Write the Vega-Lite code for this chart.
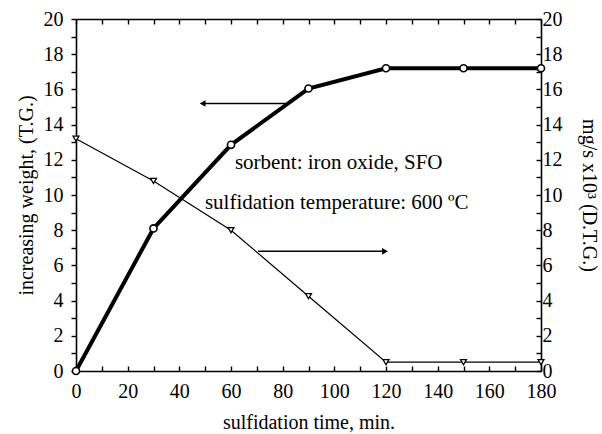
{
  "$schema": "https://vega.github.io/schema/vega-lite/v6.json",
  "autosize": "none",
  "width": 465,
  "height": 352,
  "padding": {"left": 76, "top": 19, "right": 61, "bottom": 63},
  "background": "white",
  "config": {
    "view": {"stroke": null},
    "font": "Liberation Serif",
    "axis": {
      "labelFont": "Liberation Serif",
      "titleFont": "Liberation Serif",
      "labelFontSize": 20,
      "titleFontSize": 20,
      "titleFontWeight": "normal",
      "labelColor": "black",
      "titleColor": "black",
      "tickColor": "black",
      "domainColor": "black",
      "domainWidth": 1.6,
      "tickWidth": 1.4,
      "grid": false,
      "labelFlush": false,
      "labelOverlap": false
    }
  },
  "datasets": {
    "tg": [
      {"t": 0, "v": 0}, {"t": 30, "v": 8.1}, {"t": 60, "v": 12.85}, {"t": 90, "v": 16.05},
      {"t": 120, "v": 17.2}, {"t": 150, "v": 17.2}, {"t": 180, "v": 17.2}
    ],
    "dtg": [
      {"t": 0, "v": 13.2}, {"t": 30, "v": 10.8}, {"t": 60, "v": 8.0}, {"t": 90, "v": 4.25},
      {"t": 120, "v": 0.5}, {"t": 150, "v": 0.5}, {"t": 180, "v": 0.5}
    ],
    "arrows": [
      {"t": 81, "t2": 49, "v": 15.2, "dir": "left"},
      {"t": 70.5, "t2": 119.6, "v": 6.8, "dir": "right"}
    ],
    "notes": [
      {"t": 61.5, "v": 11.5, "label": "sorbent: iron oxide, SFO"},
      {"t": 49.9, "v": 9.2, "label": "sulfidation temperature: 600 ºC"}
    ]
  },
  "resolve": {"scale": {"x": "independent", "y": "independent"}},
  "layer": [
    {
      "encoding": {
        "x": {
          "field": "t", "type": "quantitative",
          "scale": {"domain": [0, 180], "nice": false, "zero": false},
          "axis": {
            "orient": "bottom", "title": "sulfidation time, min.",
            "values": [0,10,20,30,40,50,60,70,80,90,100,110,120,130,140,150,160,170,180],
            "labelExpr": "datum.value % 20 == 0 ? datum.label : ''",
            "tickSize": -5, "labelPadding": 15, "titlePadding": 11
          }
        },
        "y": {
          "field": "v", "type": "quantitative",
          "scale": {"domain": [0, 20], "nice": false},
          "axis": {
            "orient": "left", "title": "increasing weight, (T.G.)",
            "values": [0,1,2,3,4,5,6,7,8,9,10,11,12,13,14,15,16,17,18,19,20],
            "labelExpr": "datum.value % 2 == 0 ? datum.label : ''",
            "tickSize": 5, "labelPadding": 8, "titlePadding": 7
          }
        }
      },
      "layer": [
        {"data": {"name": "tg"}, "mark": {"type": "line", "color": "black", "strokeWidth": 4}},
        {"data": {"name": "tg"}, "mark": {"type": "point", "shape": "circle", "filled": true, "fill": "white", "stroke": "black", "strokeWidth": 1.6, "size": 50, "opacity": 1}},
        {"data": {"name": "arrows"}, "mark": {"type": "rule", "color": "black", "strokeWidth": 1.4}, "encoding": {"x2": {"field": "t2"}}},
        {"data": {"name": "arrows"}, "mark": {"type": "point", "filled": true, "color": "black", "size": 45, "opacity": 1},
          "encoding": {
            "x": {"field": "t2", "type": "quantitative"},
            "shape": {"field": "dir", "type": "nominal", "scale": {"domain": ["left", "right"], "range": ["triangle-left", "triangle-right"]}, "legend": null}
          }
        },
        {"data": {"name": "notes"}, "mark": {"type": "text", "align": "left", "baseline": "alphabetic", "font": "Liberation Serif", "fontSize": 21, "color": "black"},
          "encoding": {"text": {"field": "label", "type": "nominal"}}}
      ]
    },
    {
      "encoding": {
        "x": {
          "field": "t", "type": "quantitative",
          "scale": {"domain": [0, 180], "nice": false, "zero": false},
          "axis": {
            "orient": "top", "title": null, "labels": false,
            "values": [0,10,20,30,40,50,60,70,80,90,100,110,120,130,140,150,160,170,180],
            "tickSize": -5
          }
        },
        "y": {
          "field": "v", "type": "quantitative",
          "scale": {"domain": [0, 20], "nice": false},
          "axis": {
            "orient": "right", "title": "mg/s x10³ (D.T.G.)", "titleAngle": 90,
            "values": [0,1,2,3,4,5,6,7,8,9,10,11,12,13,14,15,16,17,18,19,20],
            "labelExpr": "datum.value % 2 == 0 ? datum.label : ''",
            "tickSize": -5, "labelPadding": 6, "titlePadding": 16
          }
        }
      },
      "layer": [
        {"data": {"name": "dtg"}, "mark": {"type": "line", "color": "black", "strokeWidth": 1.2}},
        {"data": {"name": "dtg"}, "mark": {"type": "point", "shape": "triangle-down", "filled": true, "fill": "white", "stroke": "black", "strokeWidth": 1.3, "size": 35, "opacity": 1}}
      ]
    }
  ]
}
